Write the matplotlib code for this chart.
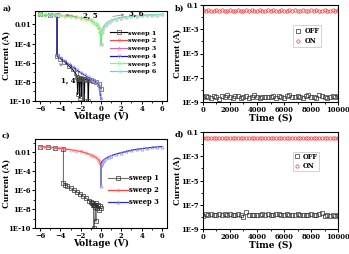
import numpy as np
import matplotlib
matplotlib.use("Agg")
import matplotlib.pyplot as plt
from matplotlib.ticker import FixedLocator, MultipleLocator, NullFormatter, FixedFormatter

# the reference is stretched sideways, so a wide serif (DejaVu Serif) fits the horizontal texts best
plt.rcParams['font.family'] = ['DejaVu Serif']
plt.rcParams['font.weight'] = 'bold'
plt.rcParams['axes.labelweight'] = 'bold'
plt.rcParams['axes.linewidth'] = 0.8

# ---- panel a: I-V sweeps ----
v_hi_l = [-6, -5.5, -5, -4.5, -4, -3.5, -3, -2.5, -2, -1.5, -1, -0.75, -0.5, -0.35, -0.2, -0.08, 0]
i_hi_l = [0.11, 0.10, 0.095, 0.09, 0.085, 0.077, 0.068, 0.059, 0.05, 0.038, 0.026, 0.019, 0.012, 0.008, 0.004, 0.0015, 8e-5]
v_hi_r = [0, 0.08, 0.2, 0.35, 0.5, 0.75, 1, 1.5, 2, 2.5, 3, 3.5, 4, 4.5, 5, 5.5, 6]
i_hi_r = [8e-5, 0.0015, 0.004, 0.008, 0.012, 0.019, 0.026, 0.04, 0.052, 0.062, 0.07, 0.078, 0.085, 0.092, 0.098, 0.104, 0.11]

v_s1 = [0, -0.2, -0.5, -0.8, -1.0, -1.2, -1.25, -1.3, -1.45, -1.6, -1.65, -1.7, -1.85, -1.9,
        -1.95, -2.05, -2.1, -2.15, -2.25, -2.3, -2.35, -2.5, -2.8, -3.2, -3.6, -4.0, -4.33, -4.33, -5, -6]
i_s1 = [2e-9, 6e-9, 1e-8, 1.3e-8, 1.5e-8, 1.6e-8, 1e-10, 1.8e-8, 2e-8, 1.5e-8, 1e-10, 2e-8, 2.2e-8, 3e-10,
        2.5e-8, 2e-8, 2e-10, 2.5e-8, 2.2e-8, 5e-10, 3e-8, 8e-8, 2e-7, 5e-7, 1.2e-6, 2.5e-6, 5e-6, 0.085, 0.095, 0.11]

v_s4 = [0, -0.05, -0.1, -0.2, -0.3, -0.4, -0.6, -0.8, -1.0, -1.3, -1.6, -2.0, -2.4, -2.8, -3.2,
        -3.6, -4.0, -4.33, -4.33, -4.6, -5.0, -5.5, -6.0]
i_s4 = [1.5e-10, 4e-10, 1e-9, 3e-9, 5e-9, 7e-9, 1e-8, 1.4e-8, 1.9e-8, 3e-8, 5e-8, 9e-8, 1.8e-7, 3.5e-7, 7e-7,
        1.4e-6, 2.8e-6, 5.5e-6, 0.085, 0.09, 0.095, 0.10, 0.11]

# ---- panel c: I-V sweeps ----
vc1 = [0, -0.1, -0.2, -0.3, -0.4, -0.5, -0.5, -0.55, -0.6, -0.65, -0.7, -0.7, -0.75, -0.8, -0.9, -1.0,
       -1.2, -1.5, -1.8, -2.1, -2.4, -2.7, -3.0, -3.3, -3.5, -3.7, -3.7, -4.5, -5.2, -6]
ic1 = [1.2e-8, 2e-8, 8e-9, 3e-8, 1.2e-8, 4e-8, 5e-10, 3e-8, 1.5e-8, 3e-8, 2.6e-8, 1e-10, 3e-8, 4.5e-8, 4e-8, 5.5e-8,
       8e-8, 1.5e-7, 2.6e-7, 4.2e-7, 6.5e-7, 1e-6, 1.6e-6, 2.6e-6, 3.6e-6, 6e-6, 0.023, 0.028, 0.034, 0.04]
vc2 = [-6, -5.5, -5, -4.5, -4, -3.5, -3, -2.5, -2, -1.5, -1, -0.75, -0.5, -0.3, -0.15, -0.05, 0]
ic2 = [0.04, 0.036, 0.032, 0.029, 0.026, 0.022, 0.019, 0.015, 0.012, 0.0085, 0.0055, 0.004, 0.0028, 0.0018, 0.0011, 7e-4, 5e-4]
vc3 = [0, 0, 0.05, 0.15, 0.3, 0.5, 0.75, 1, 1.5, 2, 2.5, 3, 3.5, 4, 4.5, 5, 5.5, 6]
ic3 = [2.7e-6, 5e-4, 8e-4, 1.2e-3, 1.7e-3, 2.4e-3, 3.3e-3, 4.3e-3, 6.5e-3, 0.009, 0.012, 0.016, 0.02, 0.024, 0.028, 0.032, 0.036, 0.04]

# ---- panels b, d: retention ----
t_ret = list(range(0, 10001, 200))
on_b = [0.036, 0.035, 0.036, 0.035, 0.035, 0.036, 0.035, 0.036, 0.035, 0.035, 0.036, 0.035, 0.035,
        0.036, 0.035, 0.035, 0.036, 0.035, 0.036, 0.035, 0.035, 0.036, 0.035, 0.035, 0.036, 0.035,
        0.036, 0.035, 0.035, 0.036, 0.035, 0.035, 0.036, 0.035, 0.036, 0.035, 0.035, 0.036, 0.035,
        0.035, 0.036, 0.035, 0.036, 0.035, 0.035, 0.036, 0.035, 0.035, 0.036, 0.035, 0.036]
off_b = [2.6e-9, 3.4e-9, 2.8e-9, 2.2e-9, 3.0e-9, 2.5e-9, 1.7e-9, 3.2e-9, 2.6e-9, 3.6e-9, 2.4e-9, 2.0e-9,
         2.9e-9, 3.3e-9, 2.3e-9, 2.7e-9, 3.1e-9, 2.1e-9, 2.5e-9, 3.5e-9, 2.8e-9, 2.2e-9, 2.6e-9, 2.6e-9,
         2.7e-9, 2.5e-9, 3.0e-9, 2.3e-9, 3.4e-9, 2.6e-9, 2.1e-9, 2.9e-9, 3.7e-9, 2.7e-9, 2.4e-9, 3.2e-9,
         2.6e-9, 2.0e-9, 3.1e-9, 3.5e-9, 2.8e-9, 2.5e-9, 2.3e-9, 3.6e-9, 2.9e-9, 2.4e-9, 2.0e-9, 2.7e-9,
         3.3e-9, 2.5e-9, 3.2e-9]
on_d = [0.032, 0.031, 0.032, 0.031, 0.031, 0.032, 0.031, 0.032, 0.031, 0.031, 0.032, 0.031, 0.031,
        0.032, 0.031, 0.031, 0.032, 0.031, 0.032, 0.031, 0.031, 0.032, 0.031, 0.031, 0.032, 0.031,
        0.032, 0.031, 0.031, 0.032, 0.031, 0.031, 0.032, 0.031, 0.032, 0.031, 0.031, 0.032, 0.031,
        0.031, 0.032, 0.031, 0.032, 0.031, 0.031, 0.032, 0.031, 0.031, 0.032, 0.031, 0.032]
off_d = [1.2e-8, 1.6e-8, 1.4e-8, 1.7e-8, 1.5e-8, 1.3e-8, 1.6e-8, 1.5e-8, 1.7e-8, 1.4e-8, 1.6e-8, 1.3e-8,
         1.5e-8, 1.6e-8, 1.4e-8, 9e-9, 2.6e-8, 1.5e-8, 1.4e-8, 1.3e-8, 1.5e-8, 1.4e-8, 1.6e-8, 1.5e-8,
         1.7e-8, 1.4e-8, 1.5e-8, 1.6e-8, 1.8e-8, 1.5e-8, 1.4e-8, 1.6e-8, 1.3e-8, 1.4e-8, 1.5e-8, 1.6e-8,
         1.4e-8, 1.3e-8, 1.5e-8, 1.4e-8, 1.6e-8, 1.5e-8, 1.3e-8, 1.7e-8, 2.2e-8, 1.2e-8, 1.4e-8, 1.1e-8,
         1.3e-8, 1.2e-8, 1.5e-8]

iv_yticks = [1e-10, 1e-8, 1e-6, 1e-4, 1e-2]
iv_ylabels = ['1E-10', '1E-8', '1E-6', '1E-4', '0.01']
ret_yticks = [1e-9, 1e-7, 1e-5, 1e-3, 1e-1]
ret_ylabels = ['1E-9', '1E-7', '1E-5', '1E-3', '0.1']

panel_tags = ["a)", "b)", "c)", "d)"]
tag_x = [3, 175, 2, 175]
tag_y = [9, 9, 136, 135]

TICK_FS = 4.9
LAB_FS = 6.5
YLAB_FS = 6.8
LEG_FS = 4.6
ANN_FS = 5.0

fig = plt.figure(figsize=(3.49, 2.54), dpi=100)
W, H = 349, 254


def axes_px(l, r, t, b):
    return fig.add_axes([l / W, 1 - b / H, (r - l) / W, (b - t) / H])


def style(ax):
    ax.tick_params(which='major', length=2.2, width=0.7, labelsize=TICK_FS, pad=0.8)
    ax.tick_params(which='minor', length=1.3, width=0.6)
    ax.yaxis.set_minor_formatter(NullFormatter())
    ax.xaxis.set_minor_formatter(NullFormatter())


def labels(ax, xlab, xlab_y, ylab_x):
    ax.set_xlabel(xlab, fontsize=LAB_FS)
    ax.set_ylabel('Current (A)', fontsize=YLAB_FS, family='Liberation Serif')
    ax.yaxis.set_label_coords(ylab_x, 0.5)
    ax.xaxis.set_label_coords(0.5, xlab_y)


def iv_axes(ax):
    ax.set_yscale('log')
    ax.set_xlim(-6.5, 6.5)
    ax.set_ylim(1e-10, 0.25)
    ax.xaxis.set_major_locator(MultipleLocator(2))
    ax.xaxis.set_minor_locator(MultipleLocator(1))
    ax.yaxis.set_major_locator(FixedLocator(iv_yticks))
    ax.yaxis.set_major_formatter(FixedFormatter(iv_ylabels))
    ax.yaxis.set_minor_locator(FixedLocator([1e-9, 1e-7, 1e-5, 1e-3, 1e-1]))
    style(ax)


def ret_axes(ax):
    ax.set_yscale('log')
    ax.set_xlim(0, 10000)
    ax.set_ylim(1e-9, 0.1)
    ax.xaxis.set_major_locator(MultipleLocator(2000))
    ax.xaxis.set_minor_locator(MultipleLocator(1000))
    ax.yaxis.set_major_locator(FixedLocator(ret_yticks))
    ax.yaxis.set_major_formatter(FixedFormatter(ret_ylabels))
    ax.yaxis.set_minor_locator(FixedLocator([1e-8, 1e-6, 1e-4, 1e-2]))
    style(ax)


def ret_legend(ax, top, spacing, pad):
    leg = ax.legend(loc='upper left', bbox_to_anchor=(0.667, top), frameon=True, fancybox=False,
                    fontsize=LEG_FS + 0.2, borderpad=pad, handlelength=0.8, handletextpad=0.6,
                    labelspacing=spacing, borderaxespad=0)
    leg.get_frame().set_edgecolor('#b0b0b0')
    leg.get_frame().set_linewidth(0.5)


mk = dict(markersize=2.2, markeredgewidth=0.5, markerfacecolor='none')
rmk = dict(markersize=2.4, markeredgewidth=0.5, markerfacecolor='none', linestyle='none')

# ---- a ----
ax = axes_px(35, 167, 11, 101)
ax.plot(v_s1, i_s1, '-', color='black', lw=0.8, marker='s', markeredgecolor='#505050', label='sweep 1', **mk)
ax.plot(v_hi_l, i_hi_l, '-', color='#ff4040', lw=0.8, marker='o', markeredgecolor='#ff8080', label='sweep 2', **mk)
ax.plot(v_hi_r, i_hi_r, '-', color='#e060a0', lw=0.8, marker='^', markeredgecolor='#e090c0', label='sweep 3', **mk)
ax.plot(v_s4, i_s4, '-', color='#1a1aa8', lw=0.9, marker='v', markeredgecolor='#a0a0f0', label='sweep 4', **mk)
ax.plot(v_hi_l, i_hi_l, '-', color='#70ff70', lw=0.9, marker='D', markeredgecolor='#a0ffa0', label='sweep 5', **mk)
ax.plot(v_hi_r, i_hi_r, '-', color='#50e8a8', lw=0.9, marker='<', markeredgecolor='#a0f0d0', label='sweep 6', **mk)
iv_axes(ax)
labels(ax, 'Voltage (V)', -0.12, -0.185)
ax.legend(loc='upper left', bbox_to_anchor=(0.568, 0.786), frameon=False, fontsize=LEG_FS,
          borderpad=0, handlelength=2.7, handletextpad=0.16, labelspacing=0.35, borderaxespad=0)
arr = dict(arrowstyle='-|>', color='#909090', lw=0.6, mutation_scale=4)
ax.annotate('', xy=(-3.8, 0.11), xytext=(-2.2, 0.06), arrowprops=arr)
ax.text(-1.8, 0.09, '2, 5', fontsize=ANN_FS, va='center', ha='left')
ax.annotate('', xy=(2.6, 0.12), xytext=(0.9, 0.06), arrowprops=arr)
ax.text(2.8, 0.13, '3, 6', fontsize=ANN_FS, va='center', ha='left')
ax.annotate('', xy=(-4.4, 1.1e-6), xytext=(-3.6, 4e-7), arrowprops=arr)
ax.text(-3.9, 1.3e-8, '1, 4', fontsize=ANN_FS, va='center', ha='left')

# ---- b ----
ax = axes_px(203, 338, 5, 102)
ax.plot(t_ret, off_b, marker='s', color='#303030', label='OFF', **rmk)
ax.plot(t_ret, on_b, marker='o', color='#ff3030', label='ON', **rmk)
ret_axes(ax)
labels(ax, 'Time (S)', -0.114, -0.16)
ret_legend(ax, 0.794, 0.33, 0.3)

# ---- c ----
ax = axes_px(35, 167, 139, 228)
ax.plot(vc1, ic1, '-', color='#707070', lw=0.8, marker='s', markeredgecolor='#303030', label='sweep 1', **mk)
ax.plot(vc2, ic2, '-', color='#ff4040', lw=0.9, marker='o', markeredgecolor='#ff9090', label='sweep 2', **mk)
ax.plot(vc3, ic3, '-', color='#3030c8', lw=0.9, marker='^', markeredgecolor='#9090e8', label='sweep 3', **mk)
iv_axes(ax)
labels(ax, 'Voltage (V)', -0.124, -0.185)
ax.legend(loc='upper left', bbox_to_anchor=(0.553, 0.607), frameon=False, fontsize=LEG_FS + 0.3,
          borderpad=0, handlelength=2.9, handletextpad=0.16, labelspacing=0.62, borderaxespad=0)

# ---- d ----
ax = axes_px(203, 338, 132, 229)
ax.plot(t_ret, off_d, marker='s', color='#303030', label='OFF', **rmk)
ax.plot(t_ret, on_d, marker='o', color='#ff3030', label='ON', **rmk)
ret_axes(ax)
labels(ax, 'Time (S)', -0.114, -0.16)
ret_legend(ax, 0.794, 0.18, 0.12)

for k in range(4):
    fig.text(tag_x[k] / W, 1 - tag_y[k] / H, panel_tags[k], fontsize=5.8, fontweight='bold',
             va='center', ha='left')

fig.savefig('out.png', dpi=100)
